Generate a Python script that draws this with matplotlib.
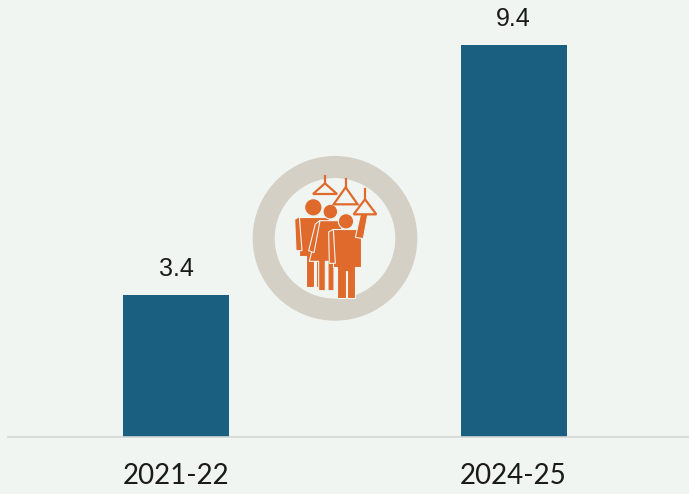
import matplotlib.pyplot as plt
from matplotlib.patches import Circle, Polygon, Wedge

# data
periods = ['2021-22', '2024-25']
values = [3.4, 9.4]

bg = '#f0f5f2'
bar_color = '#1b5f80'
orange = '#df6a2b'
ring = '#d5d0c6'

fig = plt.figure(figsize=(6.89, 4.94), dpi=100, facecolor=bg)
ax = fig.add_axes([8 / 689, 57 / 494, 681 / 689, 437 / 494])
ax.set_facecolor(bg)

x = [0, 1]
bars = ax.bar(x, values, width=0.314, color=bar_color, zorder=2)
for xi, v in zip(x, values):
    ax.annotate(f'{v}', (xi, v), xytext=(0, 10), textcoords='offset points',
                ha='center', va='bottom', fontsize=18, color='#1a1a1a',
                family='Liberation Sans')

ax.set_xlim(-0.498, 1.52)
ax.set_ylim(0, 10.48)
ax.set_xticks(x)
ax.set_xticklabels(periods, fontsize=20, color='#1a1a1a', family='Lato')
ax.tick_params(axis='x', length=0, pad=19)
ax.set_yticks([])
for s in ['top', 'left', 'right']:
    ax.spines[s].set_visible(False)
ax.spines['bottom'].set_color('#d2d6d4')
ax.spines['bottom'].set_linewidth(1.2)

# icon in the middle: ring with commuters holding hand straps
ic = fig.add_axes([250 / 689, (494 - 330) / 494, 170 / 689, 180 / 494])
ic.set_xlim(0, 510)
ic.set_ylim(540, 0)
ic.axis('off')
ic.add_patch(Wedge((255, 265), 245, 0, 360, width=62, color=ring))

def person(head, body, extra=()):
    ic.add_patch(Circle(head[:2], head[2], facecolor=orange, edgecolor=bg, lw=0.8))
    ic.add_patch(Polygon(body, closed=True, facecolor=orange, edgecolor=bg, lw=0.8))
    for p in extra:
        ic.add_patch(Polygon(p, closed=True, facecolor=orange, edgecolor=bg, lw=0.8))

# back man
person((190, 172, 26),
       [(146, 200), (236, 200), (236, 318), (220, 318), (220, 410), (197, 410),
        (197, 330), (192, 330), (192, 410), (168, 410), (168, 318), (146, 318)],
       [[(134, 208), (148, 200), (156, 302), (138, 302)]])
# woman
person((241, 185, 22),
       [(208, 212), (272, 212), (292, 334), (252, 334), (252, 422), (234, 422),
        (234, 334), (226, 334), (226, 422), (206, 422), (206, 334), (178, 334)],
       [[(196, 222), (210, 212), (192, 308), (176, 302)]])
# front man with raised arm
person((288, 214, 23),
       [(248, 238), (332, 238), (332, 352), (316, 352), (316, 444), (292, 444),
        (292, 362), (287, 362), (287, 444), (262, 444), (262, 352), (248, 352)],
       [[(236, 246), (250, 238), (256, 340), (238, 340)],
        [(316, 262), (332, 190), (354, 190), (340, 266)]])

# hand straps
for ax_, ay, base_y, half, hook in [(225, 100, 132, 36, 78),
                                    (287, 112, 163, 36, 88),
                                    (345, 148, 193, 34, 118)]:
    ic.add_patch(Polygon([(ax_, ay), (ax_ - half, base_y), (ax_ + half, base_y)],
                         closed=True, fill=False, edgecolor=orange, lw=1.6))
    ic.plot([ax_, ax_], [hook, ay], color=orange, lw=1.6)

fig.savefig('out.png', dpi=100, facecolor=bg)
